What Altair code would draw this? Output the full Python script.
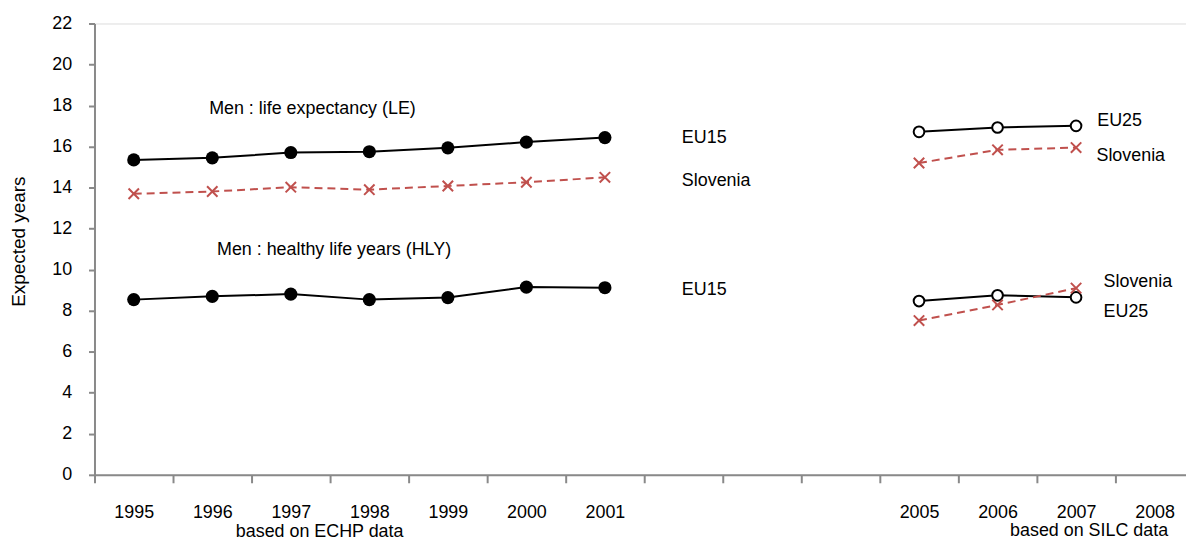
import json
import altair as alt
import pandas as pd

# ---- data ----
years = ["1995", "1996", "1997", "1998", "1999", "2000", "2001",
         "", "", "", "2005", "2006", "2007", "2008"]
echp_years = ["1995", "1996", "1997", "1998", "1999", "2000", "2001"]
silc_years = ["2005", "2006", "2007"]

eu15_le = [15.35, 15.45, 15.71, 15.75, 15.94, 16.22, 16.44]
si_le_echp = [13.70, 13.81, 14.02, 13.90, 14.08, 14.26, 14.50]
eu15_hly = [8.54, 8.70, 8.81, 8.54, 8.64, 9.15, 9.12]

eu25_le = [16.72, 16.93, 17.01]
si_le_silc = [15.20, 15.84, 15.95]
eu25_hly = [8.47, 8.75, 8.65]
si_hly_silc = [7.52, 8.28, 9.10]

# annotation texts (anchored in data units)
ann_text = ["Men :  life expectancy (LE)", "Men :  healthy life years (HLY)",
            "EU15", "Slovenia", "EU15",
            "EU25", "Slovenia", "Slovenia", "EU25",
            "based on ECHP data", "based on  SILC data"]
ann_x = [1.46, 1.56, 7.48, 7.48, 7.48, 12.77, 12.76, 12.85, 12.85, 1.80, 11.66]
ann_y = [17.83, 10.95, 16.43, 14.30, 9.01, 17.25, 15.56, 9.40, 7.95, -2.78, -2.74]

FONT = "Liberation Sans Narrow, Arial Narrow, Liberation Sans, Arial, sans-serif"
RED = "#C0504D"
AXIS = "#898989"

rows = []


def add(yrs, vals, kind, group):
    for y, v in zip(yrs, vals):
        rows.append({"pos": years.index(y) + 0.5, "value": v,
                     "kind": kind, "group": group, "year": y})


add(echp_years, eu15_le, "eu15", "eu15_le")
add(echp_years, si_le_echp, "si", "si_le_echp")
add(echp_years, eu15_hly, "eu15", "eu15_hly")
add(silc_years, eu25_le, "eu25", "eu25_le")
add(silc_years, si_le_silc, "si", "si_le_silc")
add(silc_years, eu25_hly, "eu25", "eu25_hly")
add(silc_years, si_hly_silc, "si", "si_hly_silc")
df = pd.DataFrame(rows)

ann = pd.DataFrame({"text": ann_text, "pos": ann_x, "value": ann_y})

W = 1098
XMAX = 13.9
band_px = W / XMAX

label_expr = json.dumps(years) + "[datum.value]"

x_enc = alt.X(
    "pos:Q",
    scale=alt.Scale(domain=[0, XMAX], nice=False, zero=False),
    axis=alt.Axis(
        values=list(range(14)), labelExpr=label_expr, labelOffset=band_px / 2,
        title=None, grid=False, labelFlush=False, labelOverlap=False,
        tickSize=8, labelPadding=21, domainColor=AXIS, domainWidth=2,
        tickColor=AXIS, tickWidth=2, labelFont=FONT, labelFontSize=18,
        labelColor="#000000",
    ),
)
y_enc = alt.Y(
    "value:Q",
    scale=alt.Scale(domain=[0, 22], nice=False),
    axis=alt.Axis(
        values=list(range(0, 23, 2)), title="Expected years", grid=False,
        tickSize=6, labelPadding=17, domainColor=AXIS, domainWidth=2,
        tickColor=AXIS, tickWidth=2, labelFont=FONT, labelFontSize=18,
        labelColor="#000000", titleFont=FONT, titleFontSize=19,
        titleFontWeight="normal", titleColor="#000000", titleAngle=270,
        titleX=-76, titleY=219, titleAlign="center", titleBaseline="middle",
    ),
)

base = alt.Chart(df).encode(x=x_enc, y=y_enc)

eu_lines = base.transform_filter("datum.kind != 'si'").mark_line(
    color="#000000", strokeWidth=2).encode(detail="group:N")
si_lines = base.transform_filter("datum.kind == 'si'").mark_line(
    color=RED, strokeWidth=2, strokeDash=[8, 5]).encode(detail="group:N")

eu15_pts = base.transform_filter("datum.kind == 'eu15'").mark_point(
    shape="circle", filled=True, color="#000000", size=175, opacity=1)
eu25_pts = base.transform_filter("datum.kind == 'eu25'").mark_point(
    shape="circle", filled=False, fill="#ffffff", fillOpacity=1,
    stroke="#000000", strokeWidth=2, size=115, opacity=1)
si_pts = base.transform_filter("datum.kind == 'si'").mark_point(
    shape="M-1,-1L1,1M-1,1L1,-1", filled=False, stroke=RED,
    strokeWidth=2, size=110, opacity=1)

labels = alt.Chart(ann).mark_text(
    align="left", baseline="middle", font=FONT, fontSize=18, color="#000000"
).encode(x="pos:Q", y="value:Q", text="text:N")

chart = alt.layer(
    eu_lines, si_lines, eu15_pts, eu25_pts, si_pts, labels
).properties(
    width=W, height=454,
    autosize=alt.AutoSizeParams(type="none"),
    padding={"left": 87, "top": 14, "right": 0, "bottom": 66},
).configure_view(stroke="transparent").configure(background="#ffffff")

chart.save("out.html", embed_options={"renderer": "svg", "actions": False})
